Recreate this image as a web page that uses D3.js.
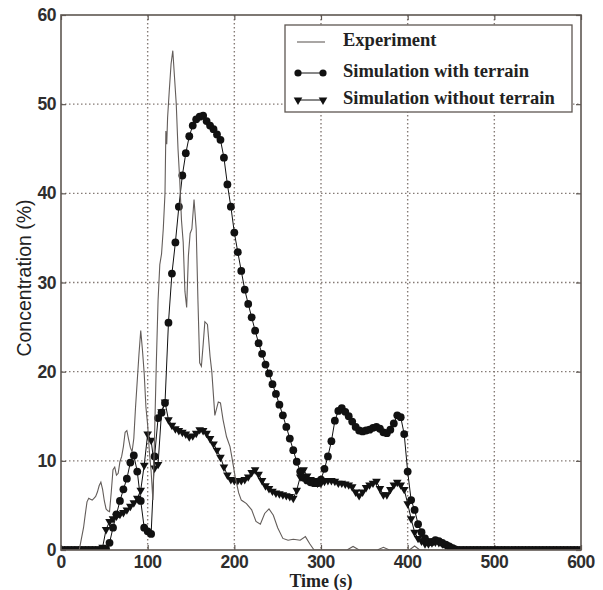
<!DOCTYPE html>
<html>
<head>
<meta charset="utf-8">
<script src="https://cdn.jsdelivr.net/npm/d3@7"></script>
<style>
  body { margin: 0; background: #fff; }
  .tick-label { font-family: "Liberation Sans", Arial, sans-serif; font-weight: bold; font-size: 17.5px; fill: #2e2e2e; letter-spacing: -0.5px; }
  .axis-title { font-family: "Liberation Serif", "Times New Roman", serif; font-weight: bold; font-size: 18px; fill: #222; }
  .y-title { font-family: "Liberation Sans", Arial, sans-serif; font-size: 19.5px; fill: #222; }
  .legend-text { font-family: "Liberation Serif", "Times New Roman", serif; font-weight: bold; font-size: 18.5px; fill: #222; }
</style>
</head>
<body>
<svg id="chart" width="603" height="590"></svg>
<script>
var WIDTH = 603;
var HEIGHT = 590;
var LEFT = 61, RIGHT = 581, TOP = 15, BOTTOM = 550;

var X_TICKS = [0, 100, 200, 300, 400, 500, 600];
var Y_TICKS = [0, 10, 20, 30, 40, 50, 60];

var LEGEND_LABELS = ['Experiment', 'Simulation with terrain', 'Simulation without terrain'];

// simulation output every 4 s, 0..600
var simTime = d3.range(0, 601, 4);

var withTerrain = [
  0, 0, 0, 0, 0, 0, 0, 0, 0, 0,
  0, 0, 0, 0.1, 0.8, 2.5, 4.0, 5.5, 6.8, 8.0,
  9.8, 10.6, 8.8, 5.5, 2.5, 2.1, 1.8, 10.5, 14.8, 15.4,
  16.5, 25.5, 31.0, 34.5, 38.5, 42.0, 44.5, 46.4, 47.6, 48.3,
  48.6, 48.7, 48.1, 47.6, 47.2, 46.6, 46.0, 44.0, 41.0, 38.5,
  35.6, 33.4, 31.3, 29.2, 27.6, 26.1, 24.6, 23.2, 22.0, 20.8,
  19.8, 18.6, 17.5, 16.3, 15.1, 13.8, 12.5, 11.2, 9.9, 8.8,
  8.1, 7.8, 7.6, 7.5, 7.5, 7.9, 9.1, 10.5, 12.2, 14.5,
  15.6, 15.9, 15.5, 15.0, 14.4, 13.8, 13.4, 13.3, 13.4, 13.5,
  13.7, 13.8, 13.6, 13.2, 13.1, 13.5, 14.2, 15.1, 14.9, 13.0,
  8.8, 5.6, 4.5, 2.9, 2.0, 1.3, 0.9, 0.9, 1.1, 1.0,
  0.8, 0.6, 0.4, 0.2, 0.05, 0, 0, 0, 0, 0,
  0, 0, 0, 0, 0, 0, 0, 0, 0, 0,
  0, 0, 0, 0, 0, 0, 0, 0, 0, 0,
  0, 0, 0, 0, 0, 0, 0, 0, 0, 0,
  0
];

var withoutTerrain = [
  0, 0, 0, 0, 0, 0, 0, 0, 0, 0,
  0, 0, 0.3, 2.3, 3.2, 3.5, 3.8, 4.0, 4.2, 4.5,
  4.9, 5.3, 5.8, 6.7, 9.5, 13.0, 12.3, 9.2, 9.6, 15.5,
  16.6, 14.6, 14.0, 13.6, 13.4, 13.2, 13.0, 12.7, 12.8, 13.1,
  13.5, 13.4, 13.1, 12.5, 11.9, 11.2, 10.4, 9.3, 8.4, 7.9,
  7.8, 7.8, 7.8, 7.9, 8.2, 8.7, 9.0, 8.5, 7.8, 7.2,
  6.9, 6.6, 6.4, 6.3, 6.2, 6.1, 6.0, 5.8, 6.7, 8.2,
  9.0, 8.3, 7.9, 7.8, 7.5, 7.5, 7.7, 7.8, 7.8, 7.7,
  7.5, 7.5, 7.4, 7.3, 7.1, 6.5, 6.1, 6.5, 7.0, 7.3,
  7.5, 7.7, 6.9, 6.2, 6.2, 6.8, 7.3, 7.6, 7.3, 6.8,
  5.2, 3.5, 2.0, 1.3, 1.0, 0.7, 0.7, 0.8, 0.9, 0.85,
  0.7, 0.55, 0.35, 0.2, 0.05, 0, 0, 0, 0, 0,
  0, 0, 0, 0, 0, 0, 0, 0, 0, 0,
  0, 0, 0, 0, 0, 0, 0, 0, 0, 0,
  0, 0, 0, 0, 0, 0, 0, 0, 0, 0,
  0
];

// experiment samples (irregular)
var expTime = [
  0, 21, 22, 24, 26, 28, 30, 32, 34, 36, 38, 40, 42, 44, 46, 48, 50, 52, 54, 56,
  58, 60, 62, 64, 66, 68, 70, 72, 74, 76, 78, 80, 82, 84, 86, 88, 90, 92, 94, 96,
  98, 100, 102, 104, 106, 108, 110, 112, 114, 116, 118, 120, 121, 122, 123, 125, 127, 129, 131, 133,
  135, 137, 139, 141, 143, 145, 147, 149, 151, 153.5, 156, 158, 160, 162, 164, 166, 169, 172, 174, 177.5,
  181.5, 184, 187, 191, 195, 197, 201, 205, 208, 214, 220, 225, 230, 235, 240, 245, 250, 256, 262, 268,
  276, 282, 287, 292, 330, 337, 344, 365, 372, 379, 402, 408, 414, 600
];
var expConc = [
  0, 0, 0.5, 1.5, 2.5, 4.0, 5.4, 5.8, 5.7, 5.6, 5.8, 6.0, 6.5, 7.2, 7.6, 6.8, 5.5, 4.6, 4.4, 4.3,
  6.5, 9.0, 9.3, 8.4, 8.6, 9.9, 10.5, 11.6, 13.2, 13.4, 12.4, 11.5, 11.0, 12.5, 16.0, 19.0, 22.0, 24.6, 22.4, 19.8,
  16.0, 14.0, 11.0, 8.8, 5.6, 13.0, 21.0, 28.0, 32.0, 33.2, 36.0, 40.0, 47.0, 45.5, 48.5, 51.6, 54.5, 56.0, 53.0, 50.0,
  45.0, 41.5, 37.0, 34.5, 29.0, 27.2, 33.0, 35.5, 36.0, 39.3, 36.0, 28.0, 21.0, 20.6, 23.0, 25.6, 25.3, 21.7, 20.0, 15.1,
  16.6, 16.5, 14.6, 12.7, 11.6, 10.5, 8.2, 6.4, 5.6, 5.2, 4.5, 3.2, 2.9, 4.1, 4.6, 3.9, 2.5, 1.3, 1.1, 1.2,
  1.1, 1.5, 0.7, 0, 0, 0.4, 0, 0, 0.3, 0, 0, 0.45, 0, 0
];

var FRAME = '#5e5752';
var GRID = '#857b76';

var svg = d3.select('#chart');

var x = d3.scaleLinear().domain([0, 600]).range([LEFT, RIGHT]);
var y = d3.scaleLinear().domain([0, 60]).range([BOTTOM, TOP]);

svg.append('defs').append('clipPath')
  .attr('id', 'plot-clip')
  .append('rect')
  .attr('x', LEFT)
  .attr('y', TOP)
  .attr('width', RIGHT - LEFT)
  .attr('height', BOTTOM - TOP);

// dotted grid
svg.append('g')
  .attr('class', 'grid')
  .selectAll('line.gx')
  .data(X_TICKS.slice(1, -1))
  .enter().append('line')
  .attr('x1', function (d) { return x(d); })
  .attr('x2', function (d) { return x(d); })
  .attr('y1', TOP)
  .attr('y2', BOTTOM)
  .attr('stroke', GRID)
  .attr('stroke-width', 1.4)
  .attr('stroke-dasharray', '1.5,2.5');

svg.append('g')
  .attr('class', 'grid')
  .selectAll('line.gy')
  .data(Y_TICKS.slice(1, -1))
  .enter().append('line')
  .attr('x1', LEFT)
  .attr('x2', RIGHT)
  .attr('y1', function (d) { return y(d); })
  .attr('y2', function (d) { return y(d); })
  .attr('stroke', GRID)
  .attr('stroke-width', 1.4)
  .attr('stroke-dasharray', '1.5,2.5');

// axes with inward ticks on all sides
var xBottom = d3.axisBottom(x).tickValues(X_TICKS).tickSize(-5).tickFormat('');
var xTop = d3.axisTop(x).tickValues(X_TICKS).tickSize(-5).tickFormat('');
var yLeft = d3.axisLeft(y).tickValues(Y_TICKS).tickSize(-5).tickFormat('');
var yRight = d3.axisRight(y).tickValues(Y_TICKS).tickSize(-5).tickFormat('');

function styleAxis (g) {
  g.select('.domain').remove();
  g.selectAll('.tick line').attr('stroke', FRAME).attr('stroke-width', 1.2);
}

svg.append('g').attr('transform', 'translate(0,' + BOTTOM + ')').call(xBottom).call(styleAxis);
svg.append('g').attr('transform', 'translate(0,' + TOP + ')').call(xTop).call(styleAxis);
svg.append('g').attr('transform', 'translate(' + LEFT + ',0)').call(yLeft).call(styleAxis);
svg.append('g').attr('transform', 'translate(' + RIGHT + ',0)').call(yRight).call(styleAxis);

svg.append('g')
  .selectAll('text')
  .data(X_TICKS)
  .enter().append('text')
  .attr('class', 'tick-label')
  .attr('x', function (d) { return x(d); })
  .attr('y', 568)
  .attr('text-anchor', 'middle')
  .text(function (d) { return d; });

svg.append('g')
  .selectAll('text')
  .data(Y_TICKS)
  .enter().append('text')
  .attr('class', 'tick-label')
  .attr('x', 56)
  .attr('y', function (d) { return y(d) + 6; })
  .attr('text-anchor', 'end')
  .text(function (d) { return d; });

svg.append('text')
  .attr('class', 'axis-title')
  .attr('x', 321)
  .attr('y', 587)
  .attr('text-anchor', 'middle')
  .text('Time (s)');

svg.append('text')
  .attr('class', 'y-title')
  .attr('transform', 'translate(31,278) rotate(-90)')
  .attr('text-anchor', 'middle')
  .text('Concentration (%)');

// series
var plot = svg.append('g').attr('clip-path', 'url(#plot-clip)');

var line = d3.line()
  .x(function (d) { return x(d.t); })
  .y(function (d) { return y(d.c); });

var expData = expTime.map(function (t, i) { return { t: t, c: expConc[i] }; });
var withData = simTime.map(function (t, i) { return { t: t, c: withTerrain[i] }; });
var withoutData = simTime.map(function (t, i) { return { t: t, c: withoutTerrain[i] }; });

var triangle = d3.symbol().type(d3.symbolTriangle).size(32);

plot.append('path')
  .datum(withoutData)
  .attr('fill', 'none')
  .attr('stroke', '#111')
  .attr('stroke-width', 1)
  .attr('d', line);

plot.selectAll('.tri')
  .data(withoutData)
  .enter().append('path')
  .attr('class', 'tri')
  .attr('d', triangle)
  .attr('fill', '#111')
  .attr('transform', function (d) { return 'translate(' + x(d.t) + ',' + y(d.c) + ') rotate(180)'; });

plot.append('path')
  .datum(withData)
  .attr('fill', 'none')
  .attr('stroke', '#111')
  .attr('stroke-width', 1)
  .attr('d', line);

plot.selectAll('.dot')
  .data(withData)
  .enter().append('circle')
  .attr('class', 'dot')
  .attr('cx', function (d) { return x(d.t); })
  .attr('cy', function (d) { return y(d.c); })
  .attr('r', 3.9)
  .attr('fill', '#111');

plot.append('path')
  .datum(expData)
  .attr('fill', 'none')
  .attr('stroke', '#635d5a')
  .attr('stroke-width', 1.1)
  .attr('d', line);

// frame
svg.append('rect')
  .attr('x', LEFT)
  .attr('y', TOP)
  .attr('width', RIGHT - LEFT)
  .attr('height', BOTTOM - TOP)
  .attr('fill', 'none')
  .attr('stroke', FRAME)
  .attr('stroke-width', 1.6);

// legend
var legend = svg.append('g');
legend.append('rect')
  .attr('x', 285)
  .attr('y', 25)
  .attr('width', 287)
  .attr('height', 87)
  .attr('fill', '#fff')
  .attr('stroke', FRAME)
  .attr('stroke-width', 1.3);

var rowY = [42, 73, 100];

legend.selectAll('.legend-text')
  .data(LEGEND_LABELS)
  .enter().append('text')
  .attr('class', 'legend-text')
  .attr('x', 343)
  .attr('y', function (d, i) { return rowY[i] + 4; })
  .text(function (d) { return d; });

legend.append('line')
  .attr('x1', 297).attr('x2', 325)
  .attr('y1', rowY[0]).attr('y2', rowY[0])
  .attr('stroke', '#635d5a').attr('stroke-width', 1.1);

legend.append('line')
  .attr('x1', 298).attr('x2', 323)
  .attr('y1', rowY[1]).attr('y2', rowY[1])
  .attr('stroke', '#111').attr('stroke-width', 1);
legend.selectAll('.ldot')
  .data([298, 323])
  .enter().append('circle')
  .attr('class', 'ldot')
  .attr('cx', function (d) { return d; })
  .attr('cy', rowY[1])
  .attr('r', 3.6)
  .attr('fill', '#111');

legend.append('line')
  .attr('x1', 298).attr('x2', 323)
  .attr('y1', rowY[2]).attr('y2', rowY[2])
  .attr('stroke', '#111').attr('stroke-width', 1);
legend.selectAll('.ltri')
  .data([298, 323])
  .enter().append('path')
  .attr('class', 'ltri')
  .attr('d', triangle)
  .attr('fill', '#111')
  .attr('transform', function (d) { return 'translate(' + d + ',' + rowY[2] + ') rotate(180)'; });
</script>
</body>
</html>
